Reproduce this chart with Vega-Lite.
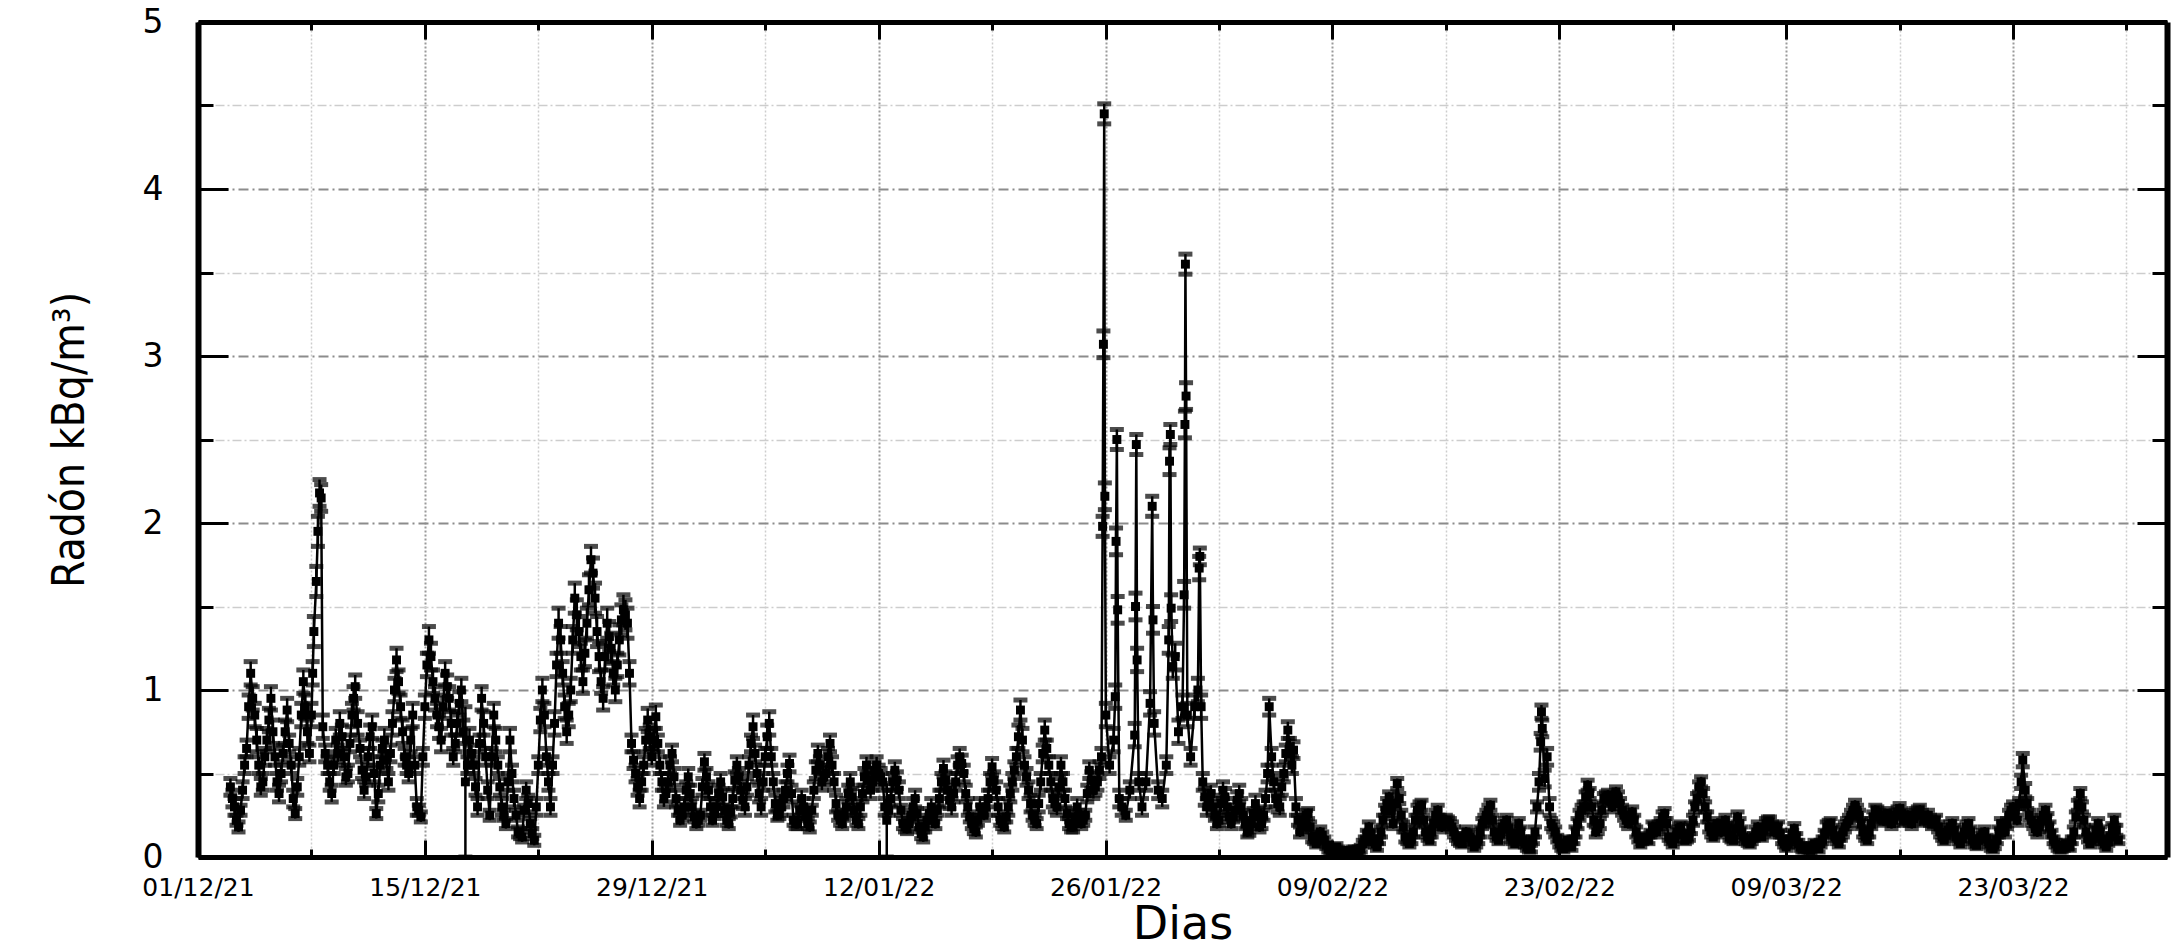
{
"$schema":"https://vega.github.io/schema/vega-lite/v6.json",
"width":1969,"height":835,
"autosize":{"type":"none"},
"padding":{"left":198,"top":22,"right":5,"bottom":93},
"background":"white",
"config":{"view":{"stroke":null},"axis":{"labelFont":"DejaVu Sans","labelColor":"black","titleColor":"black","titleFontWeight":"normal"}},
"datasets":{
"ax":[{"d":0,"v":0}],
"radon":[
{"d":2,"v":0.42,"e":0.05},{"d":2.25,"v":0.3,"e":0.05},{"d":2.5,"v":0.18,"e":0.03},{"d":2.75,"v":0.4,"e":0.05},
{"d":3,"v":0.65,"e":0.05},{"d":3.25,"v":1.1,"e":0.07},{"d":3.5,"v":0.85,"e":0.07},{"d":3.75,"v":0.55,"e":0.05},
{"d":4,"v":0.45,"e":0.05},{"d":4.25,"v":0.7,"e":0.07},{"d":4.5,"v":0.95,"e":0.07},{"d":4.75,"v":0.6,"e":0.05},
{"d":5,"v":0.38,"e":0.05},{"d":5.25,"v":0.62,"e":0.05},{"d":5.5,"v":0.88,"e":0.07},{"d":5.75,"v":0.55,"e":0.05},
{"d":6,"v":0.26,"e":0.03},{"d":6.25,"v":0.6,"e":0.05},{"d":6.5,"v":1.05,"e":0.07},{"d":6.75,"v":0.75,"e":0.07},
{"d":7,"v":0.85,"e":0.07},{"d":7.15,"v":1.35,"e":0.09},{"d":7.3,"v":1.65,"e":0.09},{"d":7.4,"v":1.95,"e":0.09},
{"d":7.5,"v":2.18,"e":0.08},{"d":7.6,"v":2.15,"e":0.08},{"d":7.7,"v":0.78,"e":0.07},
{"d":8,"v":0.55,"e":0.05},{"d":8.25,"v":0.38,"e":0.05},{"d":8.5,"v":0.7,"e":0.07},{"d":8.75,"v":0.8,"e":0.07},
{"d":9,"v":0.6,"e":0.05},{"d":9.25,"v":0.5,"e":0.05},{"d":9.5,"v":0.85,"e":0.07},{"d":9.7,"v":1.02,"e":0.07},
{"d":10,"v":0.65,"e":0.05},{"d":10.25,"v":0.4,"e":0.05},{"d":10.5,"v":0.6,"e":0.05},{"d":10.75,"v":0.78,"e":0.07},
{"d":11,"v":0.26,"e":0.03},{"d":11.25,"v":0.55,"e":0.05},{"d":11.5,"v":0.7,"e":0.07},{"d":11.75,"v":0.45,"e":0.05},
{"d":12,"v":0.8,"e":0.07},{"d":12.25,"v":1.18,"e":0.07},{"d":12.5,"v":0.9,"e":0.07},{"d":12.75,"v":0.6,"e":0.05},
{"d":13,"v":0.5,"e":0.05},{"d":13.25,"v":0.85,"e":0.07},{"d":13.5,"v":0.3,"e":0.05},{"d":13.75,"v":0.24,"e":0.03},
{"d":14,"v":0.9,"e":0.07},{"d":14.25,"v":1.3,"e":0.08},{"d":14.5,"v":1.05,"e":0.07},{"d":14.75,"v":0.85,"e":0.07},
{"d":15,"v":0.7,"e":0.07},{"d":15.25,"v":1.1,"e":0.07},{"d":15.5,"v":0.95,"e":0.07},{"d":15.75,"v":0.6,"e":0.05},
{"d":16,"v":0.8,"e":0.07},{"d":16.25,"v":1.0,"e":0.07},{"d":16.5,"v":0.45,"e":0.45},{"d":16.75,"v":0.7,"e":0.07},
{"d":17,"v":0.55,"e":0.05},{"d":17.25,"v":0.3,"e":0.05},{"d":17.5,"v":0.95,"e":0.07},{"d":17.75,"v":0.6,"e":0.05},
{"d":18,"v":0.25,"e":0.03},{"d":18.25,"v":0.85,"e":0.07},{"d":18.5,"v":0.55,"e":0.05},{"d":18.75,"v":0.3,"e":0.05},
{"d":19,"v":0.2,"e":0.03},{"d":19.25,"v":0.7,"e":0.07},{"d":19.5,"v":0.35,"e":0.05},{"d":19.75,"v":0.15,"e":0.03},
{"d":20,"v":0.12,"e":0.03},{"d":20.25,"v":0.4,"e":0.05},{"d":20.5,"v":0.2,"e":0.03},{"d":20.75,"v":0.1,"e":0.03},
{"d":21,"v":0.55,"e":0.05},{"d":21.25,"v":1.0,"e":0.07},{"d":21.5,"v":0.6,"e":0.05},{"d":21.75,"v":0.3,"e":0.05},
{"d":22,"v":0.8,"e":0.07},{"d":22.25,"v":1.4,"e":0.09},{"d":22.5,"v":1.1,"e":0.07},{"d":22.75,"v":0.75,"e":0.07},
{"d":23,"v":1.0,"e":0.07},{"d":23.25,"v":1.55,"e":0.09},{"d":23.5,"v":1.35,"e":0.09},{"d":23.75,"v":1.05,"e":0.07},
{"d":24,"v":1.4,"e":0.09},{"d":24.25,"v":1.78,"e":0.08},{"d":24.5,"v":1.55,"e":0.09},{"d":24.75,"v":1.2,"e":0.09},
{"d":25,"v":0.95,"e":0.07},{"d":25.25,"v":1.4,"e":0.09},{"d":25.5,"v":1.25,"e":0.09},{"d":25.75,"v":1.0,"e":0.07},
{"d":26,"v":1.3,"e":0.09},{"d":26.25,"v":1.48,"e":0.09},{"d":26.5,"v":1.4,"e":0.09},{"d":26.75,"v":0.68,"e":0.05},
{"d":27,"v":0.5,"e":0.05},{"d":27.25,"v":0.35,"e":0.05},{"d":27.5,"v":0.55,"e":0.05},{"d":27.75,"v":0.82,"e":0.07},
{"d":28,"v":0.6,"e":0.05},{"d":28.25,"v":0.84,"e":0.07},{"d":28.5,"v":0.55,"e":0.05},{"d":28.75,"v":0.35,"e":0.05},
{"d":29,"v":0.45,"e":0.05},{"d":29.25,"v":0.62,"e":0.05},{"d":29.5,"v":0.35,"e":0.05},{"d":29.75,"v":0.22,"e":0.03},
{"d":30,"v":0.3,"e":0.05},{"d":30.25,"v":0.48,"e":0.05},{"d":30.5,"v":0.3,"e":0.05},{"d":30.75,"v":0.2,"e":0.03},
{"d":31,"v":0.25,"e":0.03},{"d":31.25,"v":0.57,"e":0.05},{"d":31.5,"v":0.4,"e":0.05},{"d":31.75,"v":0.22,"e":0.03},
{"d":32,"v":0.3,"e":0.05},{"d":32.25,"v":0.45,"e":0.05},{"d":32.5,"v":0.28,"e":0.03},{"d":32.75,"v":0.2,"e":0.03},
{"d":33,"v":0.35,"e":0.05},{"d":33.25,"v":0.55,"e":0.05},{"d":33.5,"v":0.4,"e":0.05},{"d":33.75,"v":0.3,"e":0.05},
{"d":34,"v":0.55,"e":0.05},{"d":34.25,"v":0.78,"e":0.07},{"d":34.5,"v":0.5,"e":0.05},{"d":34.75,"v":0.3,"e":0.05},
{"d":35,"v":0.6,"e":0.05},{"d":35.25,"v":0.8,"e":0.07},{"d":35.5,"v":0.45,"e":0.05},{"d":35.75,"v":0.25,"e":0.03},
{"d":36,"v":0.3,"e":0.05},{"d":36.25,"v":0.4,"e":0.05},{"d":36.5,"v":0.56,"e":0.05},{"d":36.75,"v":0.22,"e":0.03},
{"d":37,"v":0.2,"e":0.03},{"d":37.25,"v":0.35,"e":0.05},{"d":37.5,"v":0.25,"e":0.03},{"d":37.75,"v":0.18,"e":0.03},
{"d":38,"v":0.4,"e":0.05},{"d":38.25,"v":0.62,"e":0.05},{"d":38.5,"v":0.45,"e":0.05},{"d":38.75,"v":0.5,"e":0.05},
{"d":39,"v":0.68,"e":0.05},{"d":39.25,"v":0.45,"e":0.05},{"d":39.5,"v":0.25,"e":0.03},{"d":39.75,"v":0.2,"e":0.03},
{"d":40,"v":0.3,"e":0.05},{"d":40.25,"v":0.45,"e":0.05},{"d":40.5,"v":0.28,"e":0.03},{"d":40.75,"v":0.2,"e":0.03},
{"d":41,"v":0.38,"e":0.05},{"d":41.25,"v":0.55,"e":0.05},{"d":41.5,"v":0.4,"e":0.05},{"d":41.75,"v":0.52,"e":0.05},
{"d":42,"v":0.5,"e":0.05},{"d":42.25,"v":0.45,"e":0.05},{"d":42.5,"v":0.22,"e":0.22},{"d":42.75,"v":0.35,"e":0.05},
{"d":43,"v":0.52,"e":0.05},{"d":43.25,"v":0.4,"e":0.05},{"d":43.5,"v":0.2,"e":0.03},{"d":43.75,"v":0.17,"e":0.03},
{"d":44,"v":0.25,"e":0.03},{"d":44.25,"v":0.35,"e":0.05},{"d":44.5,"v":0.18,"e":0.03},{"d":44.75,"v":0.12,"e":0.03},
{"d":45,"v":0.22,"e":0.03},{"d":45.25,"v":0.3,"e":0.05},{"d":45.5,"v":0.2,"e":0.03},{"d":45.75,"v":0.35,"e":0.05},
{"d":46,"v":0.53,"e":0.05},{"d":46.25,"v":0.4,"e":0.05},{"d":46.5,"v":0.3,"e":0.05},{"d":46.75,"v":0.45,"e":0.05},
{"d":47,"v":0.6,"e":0.05},{"d":47.25,"v":0.5,"e":0.05},{"d":47.5,"v":0.3,"e":0.05},{"d":47.75,"v":0.2,"e":0.03},
{"d":48,"v":0.15,"e":0.03},{"d":48.25,"v":0.3,"e":0.05},{"d":48.5,"v":0.25,"e":0.03},{"d":48.75,"v":0.35,"e":0.05},
{"d":49,"v":0.54,"e":0.05},{"d":49.25,"v":0.4,"e":0.05},{"d":49.5,"v":0.22,"e":0.03},{"d":49.75,"v":0.18,"e":0.03},
{"d":50,"v":0.3,"e":0.05},{"d":50.25,"v":0.45,"e":0.05},{"d":50.5,"v":0.6,"e":0.05},{"d":50.75,"v":0.88,"e":0.06},
{"d":51,"v":0.55,"e":0.05},{"d":51.25,"v":0.4,"e":0.05},{"d":51.5,"v":0.25,"e":0.03},{"d":51.75,"v":0.2,"e":0.03},
{"d":52,"v":0.45,"e":0.05},{"d":52.25,"v":0.76,"e":0.06},{"d":52.5,"v":0.55,"e":0.05},{"d":52.75,"v":0.35,"e":0.05},
{"d":53,"v":0.3,"e":0.05},{"d":53.25,"v":0.55,"e":0.05},{"d":53.5,"v":0.35,"e":0.05},{"d":53.75,"v":0.2,"e":0.03},
{"d":54,"v":0.18,"e":0.03},{"d":54.25,"v":0.3,"e":0.05},{"d":54.5,"v":0.2,"e":0.03},{"d":54.75,"v":0.25,"e":0.03},
{"d":55,"v":0.52,"e":0.05},{"d":55.25,"v":0.4,"e":0.05},{"d":55.5,"v":0.45,"e":0.05},{"d":55.75,"v":0.6,"e":0.05},
{"d":55.82,"v":1.98,"e":0.06},{"d":55.87,"v":3.07,"e":0.08},{"d":55.92,"v":4.45,"e":0.06},{"d":55.96,"v":2.16,"e":0.08},
{"d":56.02,"v":0.85,"e":0.07},{"d":56.25,"v":0.55,"e":0.05},{"d":56.5,"v":0.7,"e":0.07},
{"d":56.6,"v":0.96,"e":0.07},{"d":56.65,"v":1.89,"e":0.08},{"d":56.7,"v":2.5,"e":0.06},{"d":56.75,"v":1.48,"e":0.08},
{"d":56.85,"v":0.35,"e":0.05},{"d":57,"v":0.3,"e":0.05},{"d":57.25,"v":0.25,"e":0.03},{"d":57.5,"v":0.4,"e":0.05},
{"d":57.8,"v":0.73,"e":0.07},{"d":57.85,"v":1.5,"e":0.08},{"d":57.9,"v":2.47,"e":0.06},{"d":57.95,"v":1.18,"e":0.07},
{"d":58.05,"v":0.45,"e":0.05},{"d":58.25,"v":0.3,"e":0.05},{"d":58.5,"v":0.45,"e":0.05},{"d":58.75,"v":0.92,"e":0.07},
{"d":58.88,"v":2.1,"e":0.06},{"d":58.93,"v":1.42,"e":0.08},{"d":59,"v":0.8,"e":0.07},{"d":59.25,"v":0.4,"e":0.05},
{"d":59.5,"v":0.35,"e":0.05},{"d":59.75,"v":0.55,"e":0.05},
{"d":59.9,"v":1.3,"e":0.08},{"d":59.95,"v":2.37,"e":0.08},{"d":60,"v":2.53,"e":0.06},{"d":60.05,"v":1.49,"e":0.08},
{"d":60.15,"v":1.14,"e":0.07},{"d":60.3,"v":1.2,"e":0.08},{"d":60.5,"v":0.75,"e":0.07},{"d":60.75,"v":0.9,"e":0.07},
{"d":60.85,"v":1.57,"e":0.08},{"d":60.9,"v":2.59,"e":0.08},{"d":60.93,"v":3.55,"e":0.06},{"d":60.97,"v":2.76,"e":0.08},
{"d":61.05,"v":0.85,"e":0.07},{"d":61.25,"v":0.6,"e":0.05},{"d":61.5,"v":0.9,"e":0.07},
{"d":61.7,"v":1.0,"e":0.07},{"d":61.78,"v":1.73,"e":0.07},{"d":61.82,"v":1.8,"e":0.05},{"d":61.9,"v":0.9,"e":0.07},
{"d":62,"v":0.45,"e":0.05},{"d":62.25,"v":0.3,"e":0.05},{"d":62.5,"v":0.38,"e":0.05},{"d":62.75,"v":0.25,"e":0.03},
{"d":63,"v":0.22,"e":0.03},{"d":63.25,"v":0.4,"e":0.05},{"d":63.5,"v":0.3,"e":0.05},{"d":63.75,"v":0.2,"e":0.03},
{"d":64,"v":0.28,"e":0.03},{"d":64.25,"v":0.38,"e":0.05},{"d":64.5,"v":0.25,"e":0.03},{"d":64.75,"v":0.15,"e":0.03},
{"d":65,"v":0.2,"e":0.03},{"d":65.25,"v":0.32,"e":0.05},{"d":65.5,"v":0.18,"e":0.03},{"d":65.75,"v":0.25,"e":0.03},
{"d":66,"v":0.5,"e":0.05},{"d":66.1,"v":0.9,"e":0.05},{"d":66.25,"v":0.6,"e":0.05},{"d":66.5,"v":0.35,"e":0.05},
{"d":66.75,"v":0.3,"e":0.05},{"d":67,"v":0.5,"e":0.05},{"d":67.25,"v":0.76,"e":0.05},{"d":67.5,"v":0.55,"e":0.05},
{"d":67.6,"v":0.64,"e":0.05},{"d":67.75,"v":0.3,"e":0.05},{"d":68,"v":0.15,"e":0.03},{"d":68.25,"v":0.22,"e":0.03},
{"d":68.5,"v":0.26,"e":0.03},{"d":68.75,"v":0.12,"e":0.03},{"d":69,"v":0.08,"e":0.02},{"d":69.25,"v":0.15,"e":0.03},
{"d":69.5,"v":0.1,"e":0.02},{"d":69.75,"v":0.05,"e":0.02},{"d":70,"v":0.04,"e":0.02},{"d":70.25,"v":0.06,"e":0.02},
{"d":70.5,"v":0.03,"e":0.02},{"d":70.75,"v":0.02,"e":0.02},{"d":71,"v":0.03,"e":0.02},{"d":71.25,"v":0.04,"e":0.02},
{"d":71.5,"v":0.03,"e":0.02},{"d":71.75,"v":0.05,"e":0.02},{"d":72,"v":0.1,"e":0.02},{"d":72.25,"v":0.18,"e":0.03},
{"d":72.5,"v":0.1,"e":0.02},{"d":72.75,"v":0.06,"e":0.02},{"d":73,"v":0.15,"e":0.03},{"d":73.25,"v":0.28,"e":0.03},
{"d":73.5,"v":0.36,"e":0.03},{"d":73.75,"v":0.2,"e":0.03},{"d":74,"v":0.44,"e":0.03},{"d":74.25,"v":0.25,"e":0.03},
{"d":74.5,"v":0.12,"e":0.03},{"d":74.75,"v":0.08,"e":0.02},{"d":75,"v":0.15,"e":0.03},{"d":75.25,"v":0.28,"e":0.03},
{"d":75.5,"v":0.31,"e":0.03},{"d":75.75,"v":0.15,"e":0.03},{"d":76,"v":0.1,"e":0.02},{"d":76.25,"v":0.2,"e":0.03},
{"d":76.5,"v":0.28,"e":0.03},{"d":76.75,"v":0.18,"e":0.03},{"d":77,"v":0.22,"e":0.03},{"d":77.25,"v":0.2,"e":0.03},
{"d":77.5,"v":0.15,"e":0.03},{"d":77.75,"v":0.1,"e":0.02},{"d":78,"v":0.08,"e":0.02},{"d":78.25,"v":0.15,"e":0.03},
{"d":78.5,"v":0.12,"e":0.03},{"d":78.75,"v":0.06,"e":0.02},{"d":79,"v":0.1,"e":0.02},{"d":79.25,"v":0.2,"e":0.03},
{"d":79.5,"v":0.25,"e":0.03},{"d":79.75,"v":0.31,"e":0.03},{"d":80,"v":0.15,"e":0.03},{"d":80.25,"v":0.1,"e":0.02},
{"d":80.5,"v":0.18,"e":0.03},{"d":80.75,"v":0.22,"e":0.03},{"d":81,"v":0.12,"e":0.03},{"d":81.25,"v":0.08,"e":0.02},
{"d":81.5,"v":0.2,"e":0.03},{"d":81.75,"v":0.1,"e":0.02},{"d":82,"v":0.06,"e":0.02},{"d":82.25,"v":0.05,"e":0.02},
{"d":82.5,"v":0.15,"e":0.03},{"d":82.75,"v":0.45,"e":0.05},{"d":82.85,"v":0.69,"e":0.05},{"d":82.9,"v":0.87,"e":0.04},
{"d":82.95,"v":0.77,"e":0.05},{"d":83.1,"v":0.47,"e":0.05},{"d":83.25,"v":0.6,"e":0.05},{"d":83.4,"v":0.3,"e":0.05},
{"d":83.5,"v":0.2,"e":0.03},{"d":83.75,"v":0.15,"e":0.03},{"d":84,"v":0.08,"e":0.02},{"d":84.25,"v":0.05,"e":0.02},
{"d":84.5,"v":0.1,"e":0.02},{"d":84.75,"v":0.06,"e":0.02},{"d":85,"v":0.15,"e":0.03},{"d":85.25,"v":0.25,"e":0.03},
{"d":85.5,"v":0.3,"e":0.03},{"d":85.75,"v":0.43,"e":0.03},{"d":86,"v":0.3,"e":0.03},{"d":86.25,"v":0.15,"e":0.03},
{"d":86.5,"v":0.2,"e":0.03},{"d":86.75,"v":0.35,"e":0.03},{"d":87,"v":0.37,"e":0.03},{"d":87.25,"v":0.3,"e":0.03},
{"d":87.5,"v":0.39,"e":0.03},{"d":87.75,"v":0.32,"e":0.03},{"d":88,"v":0.25,"e":0.03},{"d":88.25,"v":0.2,"e":0.03},
{"d":88.5,"v":0.27,"e":0.03},{"d":88.75,"v":0.15,"e":0.03},{"d":89,"v":0.08,"e":0.02},{"d":89.25,"v":0.12,"e":0.02},
{"d":89.5,"v":0.1,"e":0.02},{"d":89.75,"v":0.18,"e":0.03},{"d":90,"v":0.15,"e":0.03},{"d":90.25,"v":0.2,"e":0.03},
{"d":90.5,"v":0.26,"e":0.03},{"d":90.75,"v":0.12,"e":0.02},{"d":91,"v":0.08,"e":0.02},{"d":91.25,"v":0.15,"e":0.03},
{"d":91.5,"v":0.18,"e":0.03},{"d":91.75,"v":0.1,"e":0.02},{"d":92,"v":0.12,"e":0.02},{"d":92.25,"v":0.22,"e":0.03},
{"d":92.5,"v":0.35,"e":0.03},{"d":92.75,"v":0.45,"e":0.03},{"d":93,"v":0.3,"e":0.03},{"d":93.25,"v":0.18,"e":0.03},
{"d":93.5,"v":0.12,"e":0.02},{"d":93.75,"v":0.2,"e":0.03},{"d":94,"v":0.15,"e":0.03},{"d":94.25,"v":0.22,"e":0.03},
{"d":94.5,"v":0.12,"e":0.02},{"d":94.75,"v":0.1,"e":0.02},{"d":95,"v":0.24,"e":0.03},{"d":95.25,"v":0.15,"e":0.03},
{"d":95.5,"v":0.1,"e":0.02},{"d":95.75,"v":0.08,"e":0.02},{"d":96,"v":0.12,"e":0.02},{"d":96.25,"v":0.18,"e":0.03},
{"d":96.5,"v":0.12,"e":0.02},{"d":96.75,"v":0.2,"e":0.03},{"d":97,"v":0.21,"e":0.03},{"d":97.25,"v":0.15,"e":0.03},
{"d":97.5,"v":0.18,"e":0.03},{"d":97.75,"v":0.1,"e":0.02},{"d":98,"v":0.06,"e":0.02},{"d":98.25,"v":0.1,"e":0.02},
{"d":98.5,"v":0.17,"e":0.03},{"d":98.75,"v":0.08,"e":0.02},{"d":99,"v":0.05,"e":0.02},{"d":99.25,"v":0.06,"e":0.02},
{"d":99.5,"v":0.04,"e":0.02},{"d":99.75,"v":0.08,"e":0.02},{"d":100,"v":0.05,"e":0.02},{"d":100.25,"v":0.1,"e":0.02},
{"d":100.5,"v":0.18,"e":0.03},{"d":100.75,"v":0.2,"e":0.03},{"d":101,"v":0.12,"e":0.02},{"d":101.25,"v":0.08,"e":0.02},
{"d":101.5,"v":0.15,"e":0.03},{"d":101.75,"v":0.2,"e":0.03},{"d":102,"v":0.25,"e":0.03},{"d":102.25,"v":0.31,"e":0.03},
{"d":102.5,"v":0.25,"e":0.03},{"d":102.75,"v":0.15,"e":0.03},{"d":103,"v":0.1,"e":0.02},{"d":103.25,"v":0.2,"e":0.03},
{"d":103.5,"v":0.28,"e":0.03},{"d":103.75,"v":0.25,"e":0.03},{"d":104,"v":0.22,"e":0.03},{"d":104.25,"v":0.26,"e":0.03},
{"d":104.5,"v":0.2,"e":0.03},{"d":104.75,"v":0.25,"e":0.03},{"d":105,"v":0.29,"e":0.03},{"d":105.25,"v":0.22,"e":0.03},
{"d":105.5,"v":0.25,"e":0.03},{"d":105.75,"v":0.2,"e":0.03},{"d":106,"v":0.26,"e":0.03},{"d":106.25,"v":0.28,"e":0.03},
{"d":106.5,"v":0.22,"e":0.03},{"d":106.75,"v":0.25,"e":0.03},{"d":107,"v":0.2,"e":0.03},{"d":107.25,"v":0.22,"e":0.03},
{"d":107.5,"v":0.15,"e":0.03},{"d":107.75,"v":0.1,"e":0.02},{"d":108,"v":0.16,"e":0.03},{"d":108.25,"v":0.2,"e":0.03},
{"d":108.5,"v":0.12,"e":0.02},{"d":108.75,"v":0.08,"e":0.02},{"d":109,"v":0.15,"e":0.03},{"d":109.25,"v":0.2,"e":0.03},
{"d":109.5,"v":0.1,"e":0.02},{"d":109.75,"v":0.07,"e":0.02},{"d":110,"v":0.12,"e":0.02},{"d":110.25,"v":0.15,"e":0.03},
{"d":110.5,"v":0.08,"e":0.02},{"d":110.75,"v":0.05,"e":0.02},{"d":111,"v":0.1,"e":0.02},{"d":111.25,"v":0.2,"e":0.03},
{"d":111.5,"v":0.15,"e":0.03},{"d":111.75,"v":0.25,"e":0.03},{"d":112,"v":0.3,"e":0.03},{"d":112.25,"v":0.22,"e":0.03},
{"d":112.5,"v":0.45,"e":0.04},{"d":112.6,"v":0.58,"e":0.04},{"d":112.75,"v":0.4,"e":0.04},{"d":113,"v":0.25,"e":0.03},
{"d":113.25,"v":0.2,"e":0.03},{"d":113.5,"v":0.15,"e":0.03},{"d":113.75,"v":0.22,"e":0.03},{"d":114,"v":0.28,"e":0.03},
{"d":114.25,"v":0.18,"e":0.03},{"d":114.5,"v":0.1,"e":0.02},{"d":114.75,"v":0.06,"e":0.02},{"d":115,"v":0.05,"e":0.02},
{"d":115.25,"v":0.08,"e":0.02},{"d":115.5,"v":0.06,"e":0.02},{"d":115.75,"v":0.15,"e":0.03},{"d":116,"v":0.31,"e":0.03},
{"d":116.15,"v":0.38,"e":0.03},{"d":116.25,"v":0.3,"e":0.03},{"d":116.5,"v":0.15,"e":0.03},{"d":116.75,"v":0.08,"e":0.02},
{"d":117,"v":0.12,"e":0.02},{"d":117.25,"v":0.2,"e":0.03},{"d":117.5,"v":0.1,"e":0.02},{"d":117.75,"v":0.06,"e":0.02},
{"d":118,"v":0.12,"e":0.02},{"d":118.25,"v":0.22,"e":0.03},{"d":118.5,"v":0.1,"e":0.02},
{"d":2.125,"v":0.35,"e":0.05},{"d":2.375,"v":0.22,"e":0.03},{"d":2.625,"v":0.28,"e":0.03},{"d":2.875,"v":0.55,"e":0.05},
{"d":3.125,"v":0.9,"e":0.07},{"d":3.375,"v":0.95,"e":0.07},{"d":3.625,"v":0.7,"e":0.07},{"d":3.875,"v":0.42,"e":0.05},
{"d":4.125,"v":0.6,"e":0.05},{"d":4.375,"v":0.82,"e":0.07},{"d":4.625,"v":0.75,"e":0.07},{"d":4.875,"v":0.45,"e":0.05},
{"d":5.125,"v":0.5,"e":0.05},{"d":5.375,"v":0.75,"e":0.07},{"d":5.625,"v":0.68,"e":0.05},{"d":5.875,"v":0.35,"e":0.05},
{"d":6.125,"v":0.42,"e":0.05},{"d":6.375,"v":0.85,"e":0.07},{"d":6.625,"v":0.9,"e":0.07},{"d":6.875,"v":0.62,"e":0.05},
{"d":7.075,"v":1.1,"e":0.07},{"d":7.85,"v":0.62,"e":0.05},{"d":8.125,"v":0.45,"e":0.05},{"d":8.375,"v":0.55,"e":0.05},
{"d":8.625,"v":0.62,"e":0.05},{"d":8.875,"v":0.72,"e":0.07},{"d":9.125,"v":0.48,"e":0.05},{"d":9.375,"v":0.68,"e":0.05},
{"d":9.6,"v":0.95,"e":0.07},{"d":9.85,"v":0.8,"e":0.07},{"d":10.125,"v":0.52,"e":0.05},{"d":10.375,"v":0.48,"e":0.05},
{"d":10.625,"v":0.72,"e":0.07},{"d":10.875,"v":0.5,"e":0.05},{"d":11.125,"v":0.38,"e":0.05},{"d":11.375,"v":0.65,"e":0.05},
{"d":11.625,"v":0.58,"e":0.05},{"d":11.875,"v":0.62,"e":0.05},{"d":12.125,"v":1.0,"e":0.07},{"d":12.375,"v":1.05,"e":0.07},
{"d":12.625,"v":0.75,"e":0.07},{"d":12.875,"v":0.55,"e":0.05},{"d":13.125,"v":0.7,"e":0.07},{"d":13.375,"v":0.55,"e":0.05},
{"d":13.625,"v":0.28,"e":0.03},{"d":13.875,"v":0.6,"e":0.05},{"d":14.125,"v":1.15,"e":0.07},{"d":14.375,"v":1.2,"e":0.08},
{"d":14.625,"v":0.95,"e":0.07},{"d":14.875,"v":0.78,"e":0.07},{"d":15.125,"v":0.9,"e":0.07},{"d":15.375,"v":1.02,"e":0.07},
{"d":15.625,"v":0.8,"e":0.07},{"d":15.875,"v":0.68,"e":0.05},{"d":16.125,"v":0.92,"e":0.07},{"d":16.375,"v":0.75,"e":0.07},
{"d":16.625,"v":0.55,"e":0.05},{"d":16.875,"v":0.62,"e":0.05},{"d":17.125,"v":0.42,"e":0.05},{"d":17.375,"v":0.68,"e":0.05},
{"d":17.625,"v":0.8,"e":0.07},{"d":17.875,"v":0.4,"e":0.05},{"d":18.125,"v":0.6,"e":0.05},{"d":18.375,"v":0.7,"e":0.07},
{"d":18.625,"v":0.42,"e":0.05},{"d":18.875,"v":0.25,"e":0.03},{"d":19.125,"v":0.45,"e":0.05},{"d":19.375,"v":0.5,"e":0.05},
{"d":19.625,"v":0.25,"e":0.03},{"d":19.875,"v":0.14,"e":0.03},{"d":20.125,"v":0.28,"e":0.03},{"d":20.375,"v":0.32,"e":0.05},
{"d":20.625,"v":0.14,"e":0.03},{"d":20.875,"v":0.3,"e":0.05},{"d":21.125,"v":0.82,"e":0.07},{"d":21.375,"v":0.85,"e":0.07},
{"d":21.625,"v":0.45,"e":0.05},{"d":21.875,"v":0.55,"e":0.05},{"d":22.125,"v":1.15,"e":0.07},{"d":22.375,"v":1.3,"e":0.08},
{"d":22.625,"v":0.9,"e":0.07},{"d":22.875,"v":0.85,"e":0.07},{"d":23.125,"v":1.3,"e":0.08},{"d":23.375,"v":1.45,"e":0.09},
{"d":23.625,"v":1.2,"e":0.08},{"d":23.875,"v":1.22,"e":0.08},{"d":24.125,"v":1.6,"e":0.09},{"d":24.375,"v":1.7,"e":0.09},
{"d":24.625,"v":1.35,"e":0.09},{"d":24.875,"v":1.05,"e":0.07},{"d":25.125,"v":1.2,"e":0.08},{"d":25.375,"v":1.32,"e":0.09},
{"d":25.625,"v":1.1,"e":0.07},{"d":25.875,"v":1.15,"e":0.07},{"d":26.125,"v":1.42,"e":0.09},{"d":26.375,"v":1.45,"e":0.09},
{"d":26.625,"v":1.1,"e":0.07},{"d":26.875,"v":0.58,"e":0.05},{"d":27.125,"v":0.42,"e":0.05},{"d":27.375,"v":0.45,"e":0.05},
{"d":27.625,"v":0.7,"e":0.07},{"d":27.875,"v":0.72,"e":0.07},{"d":28.125,"v":0.7,"e":0.07},{"d":28.375,"v":0.68,"e":0.05},
{"d":28.625,"v":0.45,"e":0.05},{"d":28.875,"v":0.38,"e":0.05},{"d":29.125,"v":0.55,"e":0.05},{"d":29.375,"v":0.48,"e":0.05},
{"d":29.625,"v":0.28,"e":0.03},{"d":29.875,"v":0.25,"e":0.03},{"d":30.125,"v":0.4,"e":0.05},{"d":30.375,"v":0.38,"e":0.05},
{"d":30.625,"v":0.24,"e":0.03},{"d":30.875,"v":0.22,"e":0.03},{"d":31.125,"v":0.42,"e":0.05},{"d":31.375,"v":0.48,"e":0.05},
{"d":31.625,"v":0.3,"e":0.05},{"d":31.875,"v":0.26,"e":0.03},{"d":32.125,"v":0.38,"e":0.05},{"d":32.375,"v":0.36,"e":0.05},
{"d":32.625,"v":0.22,"e":0.03},{"d":32.875,"v":0.27,"e":0.03},{"d":33.125,"v":0.46,"e":0.05},{"d":33.375,"v":0.48,"e":0.05},
{"d":33.625,"v":0.34,"e":0.05},{"d":33.875,"v":0.42,"e":0.05},{"d":34.125,"v":0.68,"e":0.05},{"d":34.375,"v":0.62,"e":0.05},
{"d":34.625,"v":0.38,"e":0.05},{"d":34.875,"v":0.45,"e":0.05},{"d":35.125,"v":0.72,"e":0.07},{"d":35.375,"v":0.6,"e":0.05},
{"d":35.625,"v":0.32,"e":0.05},{"d":35.875,"v":0.26,"e":0.03},{"d":36.125,"v":0.35,"e":0.05},{"d":36.375,"v":0.5,"e":0.05},
{"d":36.625,"v":0.38,"e":0.05},{"d":36.875,"v":0.2,"e":0.03},{"d":37.125,"v":0.28,"e":0.03},{"d":37.375,"v":0.3,"e":0.05},
{"d":37.625,"v":0.2,"e":0.03},{"d":37.875,"v":0.28,"e":0.03},{"d":38.125,"v":0.52,"e":0.05},{"d":38.375,"v":0.55,"e":0.05},
{"d":38.625,"v":0.48,"e":0.05},{"d":38.875,"v":0.6,"e":0.05},{"d":39.125,"v":0.55,"e":0.05},{"d":39.375,"v":0.32,"e":0.05},
{"d":39.625,"v":0.22,"e":0.03},{"d":39.875,"v":0.25,"e":0.03},{"d":40.125,"v":0.38,"e":0.05},{"d":40.375,"v":0.36,"e":0.05},
{"d":40.625,"v":0.22,"e":0.03},{"d":40.875,"v":0.3,"e":0.05},{"d":41.125,"v":0.48,"e":0.05},{"d":41.375,"v":0.46,"e":0.05},
{"d":41.625,"v":0.45,"e":0.05},{"d":41.875,"v":0.55,"e":0.05},{"d":42.125,"v":0.48,"e":0.05},{"d":42.375,"v":0.3,"e":0.05},
{"d":42.625,"v":0.28,"e":0.03},{"d":42.875,"v":0.45,"e":0.05},{"d":43.125,"v":0.46,"e":0.05},{"d":43.375,"v":0.28,"e":0.03},
{"d":43.625,"v":0.18,"e":0.03},{"d":43.875,"v":0.2,"e":0.03},{"d":44.125,"v":0.3,"e":0.05},{"d":44.375,"v":0.26,"e":0.03},
{"d":44.625,"v":0.14,"e":0.03},{"d":44.875,"v":0.18,"e":0.03},{"d":45.125,"v":0.26,"e":0.03},{"d":45.375,"v":0.24,"e":0.03},
{"d":45.625,"v":0.28,"e":0.03},{"d":45.875,"v":0.45,"e":0.05},{"d":46.125,"v":0.46,"e":0.05},{"d":46.375,"v":0.34,"e":0.05},
{"d":46.625,"v":0.38,"e":0.05},{"d":46.875,"v":0.55,"e":0.05},{"d":47.125,"v":0.56,"e":0.05},{"d":47.375,"v":0.38,"e":0.05},
{"d":47.625,"v":0.24,"e":0.03},{"d":47.875,"v":0.17,"e":0.03},{"d":48.125,"v":0.22,"e":0.03},{"d":48.375,"v":0.28,"e":0.03},
{"d":48.625,"v":0.3,"e":0.05},{"d":48.875,"v":0.45,"e":0.05},{"d":49.125,"v":0.46,"e":0.05},{"d":49.375,"v":0.3,"e":0.05},
{"d":49.625,"v":0.2,"e":0.03},{"d":49.875,"v":0.24,"e":0.03},{"d":50.125,"v":0.38,"e":0.05},{"d":50.375,"v":0.52,"e":0.05},
{"d":50.625,"v":0.72,"e":0.07},{"d":50.875,"v":0.7,"e":0.07},{"d":51.125,"v":0.48,"e":0.05},{"d":51.375,"v":0.32,"e":0.05},
{"d":51.625,"v":0.22,"e":0.03},{"d":51.875,"v":0.32,"e":0.05},{"d":52.125,"v":0.62,"e":0.05},{"d":52.375,"v":0.65,"e":0.05},
{"d":52.625,"v":0.45,"e":0.05},{"d":52.875,"v":0.32,"e":0.05},{"d":53.125,"v":0.42,"e":0.05},{"d":53.375,"v":0.45,"e":0.05},
{"d":53.625,"v":0.26,"e":0.03},{"d":53.875,"v":0.18,"e":0.03},{"d":54.125,"v":0.24,"e":0.03},{"d":54.375,"v":0.25,"e":0.03},
{"d":54.625,"v":0.22,"e":0.03},{"d":54.875,"v":0.38,"e":0.05},{"d":55.125,"v":0.46,"e":0.05},{"d":55.375,"v":0.42,"e":0.05},
{"d":55.625,"v":0.52,"e":0.05},
{"d":62.125,"v":0.36,"e":0.05},{"d":62.375,"v":0.34,"e":0.05},{"d":62.625,"v":0.3,"e":0.05},{"d":62.875,"v":0.2,"e":0.03},
{"d":63.125,"v":0.32,"e":0.05},{"d":63.375,"v":0.36,"e":0.05},{"d":63.625,"v":0.24,"e":0.03},{"d":63.875,"v":0.24,"e":0.03},
{"d":64.125,"v":0.34,"e":0.05},{"d":64.375,"v":0.3,"e":0.05},{"d":64.625,"v":0.2,"e":0.03},{"d":64.875,"v":0.16,"e":0.03},
{"d":65.125,"v":0.26,"e":0.03},{"d":65.375,"v":0.26,"e":0.03},{"d":65.625,"v":0.2,"e":0.03},{"d":65.875,"v":0.35,"e":0.05},
{"d":66.375,"v":0.45,"e":0.05},{"d":66.625,"v":0.32,"e":0.05},{"d":66.875,"v":0.42,"e":0.05},{"d":67.125,"v":0.62,"e":0.05},
{"d":67.375,"v":0.66,"e":0.05},{"d":67.875,"v":0.22,"e":0.03},{"d":68.125,"v":0.18,"e":0.03},{"d":68.375,"v":0.25,"e":0.03},
{"d":68.625,"v":0.18,"e":0.03},{"d":68.875,"v":0.1,"e":0.02},{"d":69.125,"v":0.12,"e":0.02},{"d":69.375,"v":0.13,"e":0.02},
{"d":69.625,"v":0.07,"e":0.02},{"d":69.875,"v":0.04,"e":0.02},{"d":70.125,"v":0.05,"e":0.02},{"d":70.375,"v":0.04,"e":0.02},
{"d":70.625,"v":0.02,"e":0.02},{"d":70.875,"v":0.03,"e":0.02},{"d":71.125,"v":0.03,"e":0.02},{"d":71.375,"v":0.04,"e":0.02},
{"d":71.625,"v":0.04,"e":0.02},{"d":71.875,"v":0.08,"e":0.02},{"d":72.125,"v":0.14,"e":0.02},{"d":72.375,"v":0.14,"e":0.02},
{"d":72.625,"v":0.08,"e":0.02},{"d":72.875,"v":0.1,"e":0.02},{"d":73.125,"v":0.22,"e":0.03},{"d":73.375,"v":0.32,"e":0.03},
{"d":73.625,"v":0.28,"e":0.03},{"d":73.875,"v":0.32,"e":0.03},{"d":74.125,"v":0.35,"e":0.03},{"d":74.375,"v":0.18,"e":0.03},
{"d":74.625,"v":0.1,"e":0.02},{"d":74.875,"v":0.1,"e":0.02},{"d":75.125,"v":0.22,"e":0.03},{"d":75.375,"v":0.3,"e":0.03},
{"d":75.625,"v":0.22,"e":0.03},{"d":75.875,"v":0.12,"e":0.02},{"d":76.125,"v":0.15,"e":0.03},{"d":76.375,"v":0.25,"e":0.03},
{"d":76.625,"v":0.22,"e":0.03},{"d":76.875,"v":0.2,"e":0.03},{"d":77.125,"v":0.21,"e":0.03},{"d":77.375,"v":0.18,"e":0.03},
{"d":77.625,"v":0.12,"e":0.02},{"d":77.875,"v":0.09,"e":0.02},{"d":78.125,"v":0.12,"e":0.02},{"d":78.375,"v":0.14,"e":0.02},
{"d":78.625,"v":0.09,"e":0.02},{"d":78.875,"v":0.08,"e":0.02},{"d":79.125,"v":0.15,"e":0.03},{"d":79.375,"v":0.22,"e":0.03},
{"d":79.625,"v":0.28,"e":0.03},{"d":79.875,"v":0.22,"e":0.03},{"d":80.125,"v":0.12,"e":0.02},{"d":80.375,"v":0.14,"e":0.02},
{"d":80.625,"v":0.2,"e":0.03},{"d":80.875,"v":0.17,"e":0.03},{"d":81.125,"v":0.1,"e":0.02},{"d":81.375,"v":0.14,"e":0.02},
{"d":81.625,"v":0.15,"e":0.03},{"d":81.875,"v":0.08,"e":0.02},{"d":82.125,"v":0.05,"e":0.02},{"d":82.375,"v":0.1,"e":0.02},
{"d":82.625,"v":0.3,"e":0.03},{"d":83.625,"v":0.18,"e":0.03},{"d":83.875,"v":0.11,"e":0.02},{"d":84.125,"v":0.06,"e":0.02},
{"d":84.375,"v":0.07,"e":0.02},{"d":84.625,"v":0.08,"e":0.02},{"d":84.875,"v":0.1,"e":0.02},{"d":85.125,"v":0.2,"e":0.03},
{"d":85.375,"v":0.28,"e":0.03},{"d":85.625,"v":0.36,"e":0.03},{"d":85.875,"v":0.38,"e":0.03},{"d":86.125,"v":0.22,"e":0.03},
{"d":86.375,"v":0.17,"e":0.03},{"d":86.625,"v":0.28,"e":0.03},{"d":86.875,"v":0.36,"e":0.03},{"d":87.125,"v":0.34,"e":0.03},
{"d":87.375,"v":0.35,"e":0.03},{"d":87.625,"v":0.36,"e":0.03},{"d":87.875,"v":0.28,"e":0.03},{"d":88.125,"v":0.22,"e":0.03},
{"d":88.375,"v":0.24,"e":0.03},{"d":88.625,"v":0.22,"e":0.03},{"d":88.875,"v":0.11,"e":0.02},{"d":89.125,"v":0.1,"e":0.02},
{"d":89.375,"v":0.11,"e":0.02},{"d":89.625,"v":0.14,"e":0.02},{"d":89.875,"v":0.17,"e":0.03},{"d":90.125,"v":0.18,"e":0.03},
{"d":90.375,"v":0.24,"e":0.03},{"d":90.625,"v":0.2,"e":0.03},{"d":90.875,"v":0.1,"e":0.02},{"d":91.125,"v":0.11,"e":0.02},
{"d":91.375,"v":0.17,"e":0.03},{"d":91.625,"v":0.14,"e":0.02},{"d":91.875,"v":0.11,"e":0.02},{"d":92.125,"v":0.17,"e":0.03},
{"d":92.375,"v":0.3,"e":0.03},{"d":92.625,"v":0.42,"e":0.03},{"d":92.875,"v":0.38,"e":0.03},{"d":93.125,"v":0.24,"e":0.03},
{"d":93.375,"v":0.15,"e":0.03},{"d":93.625,"v":0.16,"e":0.03},{"d":93.875,"v":0.18,"e":0.03},{"d":94.125,"v":0.19,"e":0.03},
{"d":94.375,"v":0.17,"e":0.03},{"d":94.625,"v":0.11,"e":0.02},{"d":94.875,"v":0.17,"e":0.03},{"d":95.125,"v":0.2,"e":0.03},
{"d":95.375,"v":0.12,"e":0.02},{"d":95.625,"v":0.09,"e":0.02},{"d":95.875,"v":0.1,"e":0.02},{"d":96.125,"v":0.15,"e":0.03},
{"d":96.375,"v":0.15,"e":0.03},{"d":96.625,"v":0.16,"e":0.03},{"d":96.875,"v":0.21,"e":0.03},{"d":97.125,"v":0.18,"e":0.03},
{"d":97.375,"v":0.17,"e":0.03},{"d":97.625,"v":0.14,"e":0.02},{"d":97.875,"v":0.08,"e":0.02},{"d":98.125,"v":0.08,"e":0.02},
{"d":98.375,"v":0.14,"e":0.02},{"d":98.625,"v":0.12,"e":0.02},{"d":98.875,"v":0.06,"e":0.02},{"d":99.125,"v":0.05,"e":0.02},
{"d":99.375,"v":0.05,"e":0.02},{"d":99.625,"v":0.06,"e":0.02},{"d":99.875,"v":0.06,"e":0.02},{"d":100.125,"v":0.08,"e":0.02},
{"d":100.375,"v":0.14,"e":0.02},{"d":100.625,"v":0.19,"e":0.03},{"d":100.875,"v":0.16,"e":0.03},{"d":101.125,"v":0.1,"e":0.02},
{"d":101.375,"v":0.12,"e":0.02},{"d":101.625,"v":0.18,"e":0.03},{"d":101.875,"v":0.22,"e":0.03},{"d":102.125,"v":0.28,"e":0.03},
{"d":102.375,"v":0.28,"e":0.03},{"d":102.625,"v":0.2,"e":0.03},{"d":102.875,"v":0.12,"e":0.02},{"d":103.125,"v":0.15,"e":0.03},
{"d":103.375,"v":0.24,"e":0.03},{"d":103.625,"v":0.27,"e":0.03},{"d":103.875,"v":0.23,"e":0.03},{"d":104.125,"v":0.24,"e":0.03},
{"d":104.375,"v":0.23,"e":0.03},{"d":104.625,"v":0.22,"e":0.03},{"d":104.875,"v":0.27,"e":0.03},{"d":105.125,"v":0.26,"e":0.03},
{"d":105.375,"v":0.23,"e":0.03},{"d":105.625,"v":0.22,"e":0.03},{"d":105.875,"v":0.23,"e":0.03},{"d":106.125,"v":0.27,"e":0.03},
{"d":106.375,"v":0.25,"e":0.03},{"d":106.625,"v":0.23,"e":0.03},{"d":106.875,"v":0.22,"e":0.03},{"d":107.125,"v":0.21,"e":0.03},
{"d":107.375,"v":0.18,"e":0.03},{"d":107.625,"v":0.12,"e":0.02},{"d":107.875,"v":0.13,"e":0.02},{"d":108.125,"v":0.18,"e":0.03},
{"d":108.375,"v":0.16,"e":0.03},{"d":108.625,"v":0.1,"e":0.02},{"d":108.875,"v":0.11,"e":0.02},{"d":109.125,"v":0.18,"e":0.03},
{"d":109.375,"v":0.15,"e":0.03},{"d":109.625,"v":0.08,"e":0.02},{"d":109.875,"v":0.1,"e":0.02},{"d":110.125,"v":0.14,"e":0.02},
{"d":110.375,"v":0.11,"e":0.02},{"d":110.625,"v":0.06,"e":0.02},{"d":110.875,"v":0.07,"e":0.02},{"d":111.125,"v":0.15,"e":0.03},
{"d":111.375,"v":0.18,"e":0.03},{"d":111.625,"v":0.2,"e":0.03},{"d":111.875,"v":0.28,"e":0.03},{"d":112.125,"v":0.26,"e":0.03},
{"d":112.375,"v":0.32,"e":0.03},{"d":112.875,"v":0.32,"e":0.03},{"d":113.125,"v":0.22,"e":0.03},{"d":113.375,"v":0.17,"e":0.03},
{"d":113.625,"v":0.18,"e":0.03},{"d":113.875,"v":0.25,"e":0.03},{"d":114.125,"v":0.23,"e":0.03},{"d":114.375,"v":0.14,"e":0.02},
{"d":114.625,"v":0.08,"e":0.02},{"d":114.875,"v":0.05,"e":0.02},{"d":115.125,"v":0.06,"e":0.02},{"d":115.375,"v":0.07,"e":0.02},
{"d":115.625,"v":0.1,"e":0.02},{"d":115.875,"v":0.24,"e":0.03},{"d":116.375,"v":0.22,"e":0.03},{"d":116.625,"v":0.11,"e":0.02},
{"d":116.875,"v":0.1,"e":0.02},{"d":117.125,"v":0.16,"e":0.03},{"d":117.375,"v":0.15,"e":0.03},{"d":117.625,"v":0.08,"e":0.02},
{"d":117.875,"v":0.09,"e":0.02},{"d":118.125,"v":0.17,"e":0.03},{"d":118.375,"v":0.16,"e":0.03}
]},
"layer":[
{"data":{"name":"ax"},"mark":{"type":"point","opacity":0},
 "encoding":{
  "x":{"field":"d","type":"quantitative","scale":{"domain":[0,121.5],"nice":false,"zero":false},
   "axis":{"orient":"bottom","values":[7,21,35,49,63,77,91,105,119],"grid":true,"gridColor":"#cdcdcd","gridWidth":1.5,"gridDash":[2,2],"ticks":false,"labels":false,"domain":false,"title":null,"zindex":0}},
  "y":{"field":"v","type":"quantitative","scale":{"domain":[0,5],"nice":false,"zero":true},
   "axis":{"orient":"left","values":[0.5,1.5,2.5,3.5,4.5],"grid":true,"gridColor":"#cdcdcd","gridWidth":1.5,"gridDash":[9,3,2,3],"ticks":false,"labels":false,"domain":false,"title":null,"zindex":0}}}},
{"data":{"name":"ax"},"mark":{"type":"point","opacity":0},
 "encoding":{
  "x":{"field":"d","type":"quantitative",
   "axis":{"orient":"bottom","values":[0,14,28,42,56,70,84,98,112],"grid":true,"gridColor":"#9a9a9a","gridWidth":2,"gridDash":[2,2],"ticks":false,"domain":false,
    "labelExpr":"utcFormat(1638316800000 + datum.value*86400000, '%d/%m/%y')","labelFontSize":25,"labelPadding":18,"labelFlush":false,"labelOverlap":false,
    "title":"Dias","titleFont":"DejaVu Sans","titleFontSize":46,"titlePadding":2,"zindex":0}},
  "y":{"field":"v","type":"quantitative",
   "axis":{"orient":"left","values":[0,1,2,3,4,5],"grid":true,"gridColor":"#8c8c8c","gridWidth":2,"gridDash":[10,4,2,4],"ticks":false,"domain":false,
    "labelFontSize":33,"labelPadding":35,"labelOverlap":false,
    "title":"Radón kBq/m³)","titleFont":"Liberation Sans Narrow, DejaVu Sans Condensed, Liberation Sans","titleFontSize":44,"titlePadding":50,"zindex":0}}}},
{"data":{"name":"radon"},"mark":{"type":"line","color":"black","strokeWidth":2.5,"clip":true},
 "encoding":{"x":{"field":"d","type":"quantitative","axis":null},"y":{"field":"v","type":"quantitative","axis":null}}},
{"data":{"name":"radon"},"mark":{"type":"errorbar","color":"black","clip":true,"ticks":{"size":14,"thickness":5},"rule":{"strokeWidth":2.5}},
 "encoding":{"x":{"field":"d","type":"quantitative","axis":null},"y":{"field":"v","type":"quantitative","axis":null},"yError":{"field":"e"}}},
{"data":{"name":"radon"},"mark":{"type":"point","shape":"square","filled":true,"size":80,"color":"black","opacity":1,"clip":true},
 "encoding":{"x":{"field":"d","type":"quantitative","axis":null},"y":{"field":"v","type":"quantitative","axis":null}}},
{"data":{"name":"ax"},"mark":{"type":"point","opacity":0},
 "encoding":{
  "x":{"field":"d","type":"quantitative",
   "axis":{"orient":"bottom","values":[0,14,28,42,56,70,84,98,112],"grid":false,"labels":false,"ticks":true,"tickSize":-17,"tickWidth":3,"tickColor":"black","domain":true,"domainColor":"black","domainWidth":5,"title":null,"zindex":1}},
  "y":{"field":"v","type":"quantitative",
   "axis":{"orient":"left","values":[0,1,2,3,4,5],"grid":false,"labels":false,"ticks":true,"tickSize":-30,"tickWidth":3,"tickColor":"black","domain":true,"domainColor":"black","domainWidth":6,"title":null,"zindex":1}}}},
{"data":{"name":"ax"},"mark":{"type":"point","opacity":0},
 "encoding":{
  "x":{"field":"d","type":"quantitative",
   "axis":{"orient":"bottom","values":[7,21,35,49,63,77,91,105,119],"grid":false,"labels":false,"ticks":true,"tickSize":-8,"tickWidth":3,"tickColor":"black","domain":false,"title":null,"zindex":1}},
  "y":{"field":"v","type":"quantitative",
   "axis":{"orient":"left","values":[0.5,1.5,2.5,3.5,4.5],"grid":false,"labels":false,"ticks":true,"tickSize":-15,"tickWidth":3,"tickColor":"black","domain":false,"title":null,"zindex":1}}}},
{"data":{"name":"ax"},"mark":{"type":"point","opacity":0},
 "encoding":{
  "x":{"field":"d","type":"quantitative",
   "axis":{"orient":"top","values":[0,14,28,42,56,70,84,98,112],"grid":false,"labels":false,"ticks":true,"tickSize":-17,"tickWidth":3,"tickColor":"black","domain":true,"domainColor":"black","domainWidth":5,"title":null,"zindex":1}},
  "y":{"field":"v","type":"quantitative",
   "axis":{"orient":"right","values":[0,1,2,3,4,5],"grid":false,"labels":false,"ticks":true,"tickSize":-30,"tickWidth":3,"tickColor":"black","domain":true,"domainColor":"black","domainWidth":6,"title":null,"zindex":1}}}},
{"data":{"name":"ax"},"mark":{"type":"point","opacity":0},
 "encoding":{
  "x":{"field":"d","type":"quantitative",
   "axis":{"orient":"top","values":[7,21,35,49,63,77,91,105,119],"grid":false,"labels":false,"ticks":true,"tickSize":-8,"tickWidth":3,"tickColor":"black","domain":false,"title":null,"zindex":1}},
  "y":{"field":"v","type":"quantitative",
   "axis":{"orient":"right","values":[0.5,1.5,2.5,3.5,4.5],"grid":false,"labels":false,"ticks":true,"tickSize":-15,"tickWidth":3,"tickColor":"black","domain":false,"title":null,"zindex":1}}}}
],
"resolve":{"axis":{"x":"independent","y":"independent"}}
}
